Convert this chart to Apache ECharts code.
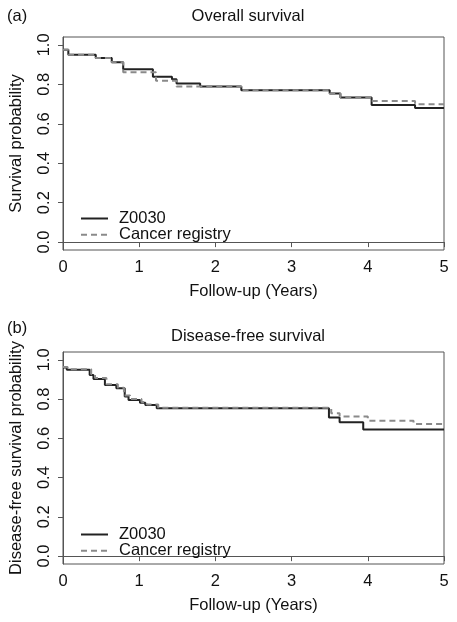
<!DOCTYPE html>
<html>
<head>
<meta charset="utf-8">
<script src="https://cdn.jsdelivr.net/npm/echarts@6/dist/echarts.min.js"></script>
<style>
html,body{margin:0;padding:0;background:#fff;}
#c{width:457px;height:622px;}
</style>
</head>
<body>
<div id="c"></div>
<script>
// ---- Data ----
var seriesNames = ['Z0030', 'Cancer registry'];
var xTicks = [0, 1, 2, 3, 4, 5];
var yTicks = [0, 0.2, 0.4, 0.6, 0.8, 1.0];

// (a) Overall survival
var osZ0030T = [0, 0.07, 0.43, 0.64, 0.79, 1.18, 1.43, 1.49, 1.80, 2.34, 3.50, 3.64, 4.05, 4.62, 5.0];
var osZ0030V = [0.975, 0.950, 0.934, 0.912, 0.877, 0.838, 0.826, 0.804, 0.789, 0.770, 0.753, 0.733, 0.695, 0.680, 0.680];
var osRegT = [0, 0.07, 0.43, 0.64, 0.79, 1.22, 1.49, 1.80, 2.34, 3.50, 3.64, 4.05, 4.62, 5.0];
var osRegV = [0.975, 0.950, 0.934, 0.912, 0.861, 0.818, 0.789, 0.789, 0.770, 0.753, 0.733, 0.715, 0.699, 0.699];

// (b) Disease-free survival
var dfsZ0030T = [0, 0.05, 0.35, 0.40, 0.55, 0.70, 0.81, 0.86, 1.01, 1.08, 1.23, 3.49, 3.63, 3.94, 5.0];
var dfsZ0030V = [0.961, 0.949, 0.923, 0.903, 0.872, 0.855, 0.813, 0.796, 0.782, 0.770, 0.753, 0.706, 0.682, 0.645, 0.645];
var dfsRegT = [0, 0.06, 0.37, 0.42, 0.57, 0.72, 0.80, 0.88, 1.03, 1.10, 1.25, 3.52, 3.63, 4.00, 4.60, 5.0];
var dfsRegV = [0.963, 0.952, 0.927, 0.907, 0.876, 0.858, 0.818, 0.800, 0.785, 0.772, 0.756, 0.728, 0.711, 0.690, 0.673, 0.673];

var panelTitles = ['Overall survival', 'Disease-free survival'];
var panelTags = ['(a)', '(b)'];
var yNames = ['Survival probability', 'Disease-free survival probability'];
var xName = 'Follow-up (Years)';

function zip(t, v) { return t.map(function (x, i) { return [x, v[i]]; }); }

var FONT = '"Liberation Sans", Arial, Helvetica, sans-serif';
var FS = 16.5;
var TXT = '#111';
var AX = '#555';

var grids = [
  { left: 63, top: 37, width: 381, height: 213 },
  { left: 63, top: 352, width: 381, height: 212 }
];

function xAxisFor(i) {
  return {
    gridIndex: i, type: 'value', min: 0, max: 5, interval: 1,
    axisLine: { show: true, lineStyle: { color: AX, width: 1 } },
    axisTick: { show: true, length: 5, lineStyle: { color: AX } },
    axisLabel: { color: TXT, fontSize: FS, fontFamily: FONT, margin: 9 },
    splitLine: { show: false },
    name: xName, nameLocation: 'middle', nameGap: 33,
    nameTextStyle: { color: TXT, fontSize: FS, fontFamily: FONT }
  };
}
function yAxisFor(i) {
  return {
    gridIndex: i, type: 'value', min: -0.04, max: 1.04,
    axisLine: { show: true, lineStyle: { color: AX, width: 1 } },
    axisTick: { show: true, length: 5, customValues: yTicks, lineStyle: { color: AX } },
    axisLabel: {
      color: TXT, fontSize: FS, fontFamily: FONT, rotate: 90, margin: 10,
      customValues: yTicks,
      formatter: function (v) { return (Math.round(v * 10) / 10).toFixed(1); }
    },
    splitLine: { show: false },
    name: yNames[i], nameLocation: 'middle', nameGap: 38, nameRotate: 90,
    nameTextStyle: { color: TXT, fontSize: FS, fontFamily: FONT }
  };
}

function lineSeries(name, data, idx, dashed) {
  return {
    name: name, type: 'line', step: 'end', xAxisIndex: idx, yAxisIndex: idx,
    data: data, symbol: 'none', silent: true, animation: false,
    z: dashed ? 3 : 2,
    lineStyle: dashed
      ? { color: '#8a8a8a', width: 2, type: [6, 4] }
      : { color: '#222', width: 2 },
    itemStyle: { color: dashed ? '#8a8a8a' : '#222' }
  };
}

function legendFor(top) {
  return {
    show: true, orient: 'vertical', left: 75, top: top,
    data: seriesNames, selectedMode: false,
    itemWidth: 27, itemHeight: 15, itemGap: -0.8,
    itemStyle: { opacity: 0 },
    textStyle: { color: TXT, fontSize: FS, fontFamily: FONT, lineHeight: 15, padding: [0, 0, 0, 6] }
  };
}

var option = {
  backgroundColor: '#fff',
  animation: false,
  grid: grids.map(function (g) {
    return Object.assign({ show: true, borderColor: AX, borderWidth: 1, backgroundColor: 'transparent', containLabel: false }, g);
  }),
  xAxis: [xAxisFor(0), xAxisFor(1)],
  yAxis: [yAxisFor(0), yAxisFor(1)],
  legend: [legendFor(205), legendFor(521)],
  graphic: [
    { type: 'text', left: 7, top: 8, style: { text: panelTags[0], fill: TXT, font: FS + 'px ' + FONT } },
    { type: 'text', x: 248, y: 16, style: { text: panelTitles[0], fill: TXT, font: FS + 'px ' + FONT, align: 'center', verticalAlign: 'middle' } },
    { type: 'text', left: 7, top: 320, style: { text: panelTags[1], fill: TXT, font: FS + 'px ' + FONT } },
    { type: 'text', x: 248, y: 336, style: { text: panelTitles[1], fill: TXT, font: FS + 'px ' + FONT, align: 'center', verticalAlign: 'middle' } }
  ],
  series: [
    lineSeries(seriesNames[0], zip(osZ0030T, osZ0030V), 0, false),
    lineSeries(seriesNames[1], zip(osRegT, osRegV), 0, true),
    lineSeries(seriesNames[0], zip(dfsZ0030T, dfsZ0030V), 1, false),
    lineSeries(seriesNames[1], zip(dfsRegT, dfsRegV), 1, true)
  ]
};

var chart = echarts.init(document.getElementById('c'), null, { renderer: 'canvas' });
chart.setOption(option);
</script>
</body>
</html>
